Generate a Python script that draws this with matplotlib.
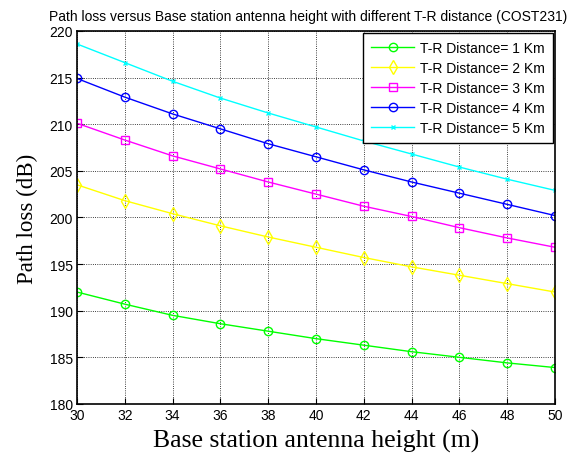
import numpy as np
import matplotlib.pyplot as plt

heights = [30, 32, 34, 36, 38, 40, 42, 44, 46, 48, 50]
loss_1km = [192.0, 190.7, 189.5, 188.6, 187.8, 187.0, 186.3, 185.6, 185.0, 184.4, 183.9]
loss_2km = [203.5, 201.8, 200.4, 199.1, 197.9, 196.8, 195.7, 194.7, 193.8, 192.9, 192.0]
loss_3km = [210.1, 208.3, 206.6, 205.2, 203.8, 202.5, 201.2, 200.1, 198.9, 197.8, 196.8]
loss_4km = [214.9, 212.9, 211.1, 209.5, 207.9, 206.5, 205.1, 203.8, 202.6, 201.4, 200.2]
loss_5km = [218.6, 216.6, 214.6, 212.8, 211.2, 209.7, 208.2, 206.8, 205.4, 204.1, 202.9]

plt.rcParams['font.family'] = 'Liberation Sans'

fig = plt.figure(figsize=(5.85, 4.56), dpi=100)
ax = fig.add_axes([0.1316, 0.112, 0.8171, 0.818])

ms = 6
ax.plot(heights, loss_1km, color='#00ff00', marker='o', ms=ms, mfc='none', lw=1,
        label='T-R Distance= 1 Km')
ax.plot(heights, loss_2km, color='#ffff00', marker='d', ms=7, mfc='none', lw=1,
        label='T-R Distance= 2 Km')
ax.plot(heights, loss_3km, color='#ff00ff', marker='s', ms=ms, mfc='none', lw=1,
        label='T-R Distance= 3 Km')
ax.plot(heights, loss_4km, color='#0000ff', marker='o', ms=ms, mfc='none', lw=1,
        label='T-R Distance= 4 Km')
ax.plot(heights, loss_5km, color='#00ffff', marker='x', ms=3.5, lw=1,
        label='T-R Distance= 5 Km')

ax.set_xlim(30, 50)
ax.set_ylim(180, 220)
ax.set_xticks(range(30, 51, 2))
ax.set_yticks(range(180, 221, 5))
ax.tick_params(direction='in', labelsize=10, length=4, pad=3)
ax.grid(True, color='black', linestyle=':', lw=0.6)
for s in ax.spines.values():
    s.set_linewidth(1.2)

ax.set_title('Path loss versus Base station antenna height with different T-R distance (COST231)',
             fontsize=10, pad=8, x=0.483)
ax.set_xlabel('Base station antenna height (m)', family='Liberation Serif', fontsize=18.5, labelpad=5)
ax.set_ylabel('Path loss (dB)', family='Liberation Serif', fontsize=16.5, labelpad=8)

leg = ax.legend(loc='upper right', fontsize=10, fancybox=False, edgecolor='black',
                framealpha=1, borderaxespad=0.15, handlelength=3.1, labelspacing=0.42,
                borderpad=0.6, handletextpad=0.4)
leg.get_frame().set_linewidth(1)

fig.savefig('out.png', dpi=100)
